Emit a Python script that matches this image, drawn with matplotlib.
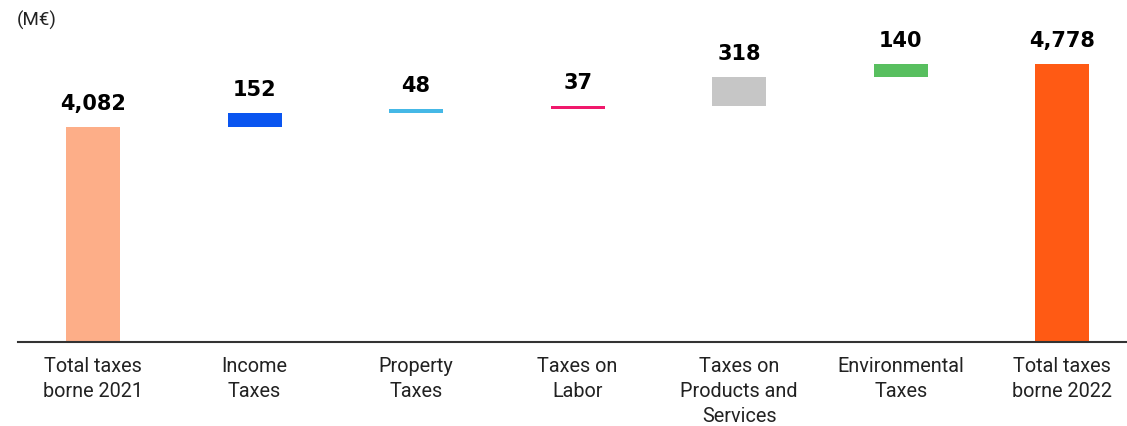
import matplotlib.pyplot as plt

categories = ["Total taxes\nborne 2021", "Income\nTaxes", "Property\nTaxes",
              "Taxes on\nLabor", "Taxes on\nProducts and\nServices",
              "Environmental\nTaxes", "Total taxes\nborne 2022"]
values = [4082, 152, 48, 37, 318, 140, 4778]
labels = ["4,082", "152", "48", "37", "318", "140", "4,778"]
colors = ["#FDAE88", "#0A55F0", "#45B8E6", "#F0186C", "#C6C6C6", "#58BF5F", "#FF5A14"]

# waterfall: first and last are totals, the rest stack on the running sum
bottoms = []
heights = []
running = 0
for i, v in enumerate(values):
    if i == 0 or i == len(values) - 1:
        bottoms.append(0)
        heights.append(v)
        running = v
    else:
        bottoms.append(running)
        heights.append(v)
        running += v

fig = plt.figure(figsize=(11.27, 4.27), dpi=100)
ax = fig.add_axes([18 / 1127, 1 - 343 / 427, 1 - 18 / 1127, 343 / 427])

x = list(range(len(values)))
ax.bar(x, heights, bottom=bottoms, width=0.334, color=colors, zorder=2)

for i in x:
    top = bottoms[i] + heights[i]
    ax.annotate(labels[i], (i, top), xytext=(0, 10), textcoords="offset points",
                ha="center", va="bottom", fontsize=15, fontweight="bold",
                family="DejaVu Sans", color="black")

ax.set_ylim(1706, 5496)
ax.set_xlim(-0.464, 6.40)

for s in ["top", "right", "left"]:
    ax.spines[s].set_visible(False)
ax.spines["bottom"].set_color("#333333")
ax.spines["bottom"].set_linewidth(1.5)
ax.set_yticks([])
ax.set_xticks(x)
ax.set_xticklabels(categories, fontsize=14.3, family="Roboto", color="#222222",
                   linespacing=1.4, va="top")
ax.tick_params(axis="x", length=0, pad=10)

fig.text(17 / 1127, 1 - 11 / 427, "(M€)", fontsize=13.5, family="Roboto",
         color="#222222", ha="left", va="top")

fig.savefig("out.png", dpi=100)
